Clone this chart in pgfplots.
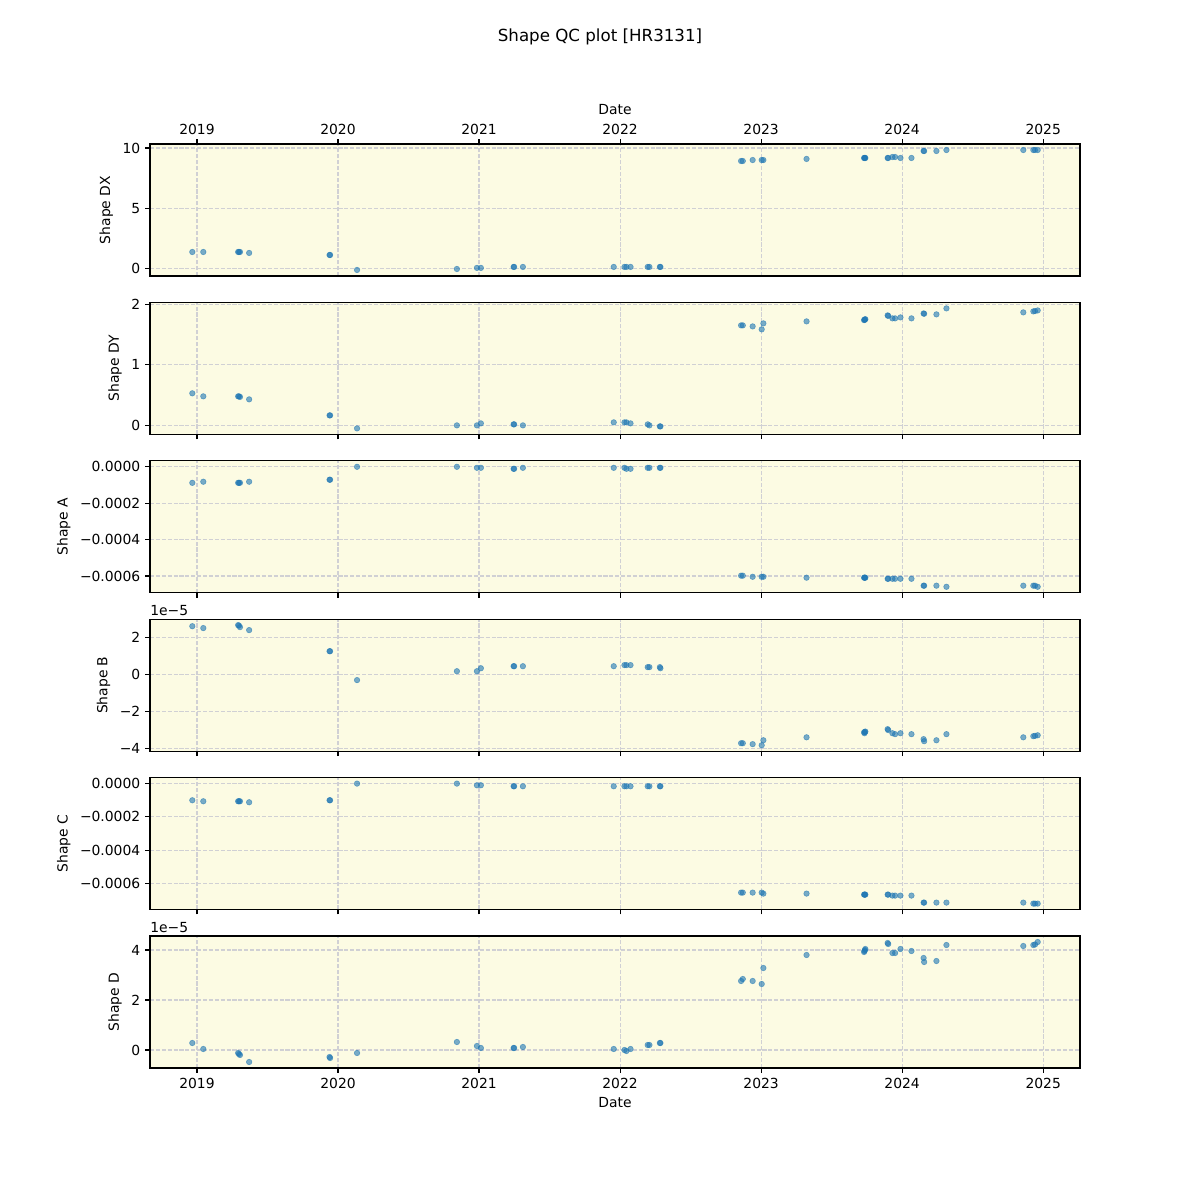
\documentclass[border=0pt]{standalone}
\usepackage{pgfplots}
\usepackage{pgfplotstable}
\usepackage{fontspec}
\setmainfont{DejaVu Sans}
\pgfplotsset{compat=1.18}

\definecolor{mplblue}{HTML}{1F77B4}
\definecolor{bgyellow}{RGB}{252,251,227}
\definecolor{gridgray}{RGB}{208,208,212}

% date, Shape DX, DY, A, B, C, D
\pgfplotstableread{
date      dx     dy     a         b         c         d
2018.967  1.38   0.53   -8.8e-5   2.59e-5   -1.00e-4  0.28e-5
2019.045  1.38   0.48   -8.2e-5   2.49e-5   -1.06e-4  0.04e-5
2019.292  1.38   0.48   -8.8e-5   2.65e-5   -1.06e-4  -0.12e-5
2019.298  1.38   0.48   -8.8e-5   2.62e-5   -1.06e-4  -0.16e-5
2019.305  1.38   0.47   -8.8e-5   2.54e-5   -1.06e-4  -0.20e-5
2019.370  1.30   0.43   -8.2e-5   2.38e-5   -1.12e-4  -0.48e-5
2019.940  1.13   0.165  -7.1e-5   1.24e-5   -1.00e-4  -0.28e-5
2019.944  1.13   0.165  -7.1e-5   1.24e-5   -1.00e-4  -0.32e-5
2020.135  -0.11  -0.05  0.0       -0.32e-5  0.0       -0.12e-5
2020.843  -0.03  0.0    0.0       0.16e-5   0.0       0.32e-5
2020.985  0.06   0.0    -0.55e-5  0.16e-5   -1.0e-5   0.16e-5
2021.013  0.06   0.033  -0.55e-5  0.32e-5   -1.0e-5   0.08e-5
2021.245  0.14   0.017  -1.1e-5   0.43e-5   -1.6e-5   0.08e-5
2021.249  0.14   0.017  -1.1e-5   0.43e-5   -1.6e-5   0.08e-5
2021.311  0.14   0.0    -0.55e-5  0.43e-5   -1.6e-5   0.12e-5
2021.955  0.14   0.05   -0.55e-5  0.43e-5   -1.6e-5   0.04e-5
2022.031  0.14   0.05   -0.55e-5  0.49e-5   -1.6e-5   0.0
2022.045  0.14   0.05   -1.1e-5   0.49e-5   -1.6e-5   -0.04e-5
2022.074  0.14   0.033  -1.1e-5   0.49e-5   -1.6e-5   0.04e-5
2022.196  0.14   0.017  -0.55e-5  0.38e-5   -1.6e-5   0.20e-5
2022.208  0.14   0.0    -0.55e-5  0.38e-5   -1.6e-5   0.20e-5
2022.282  0.14   -0.017 -0.55e-5  0.38e-5   -1.6e-5   0.28e-5
2022.286  0.14   -0.017 -0.55e-5  0.32e-5   -1.6e-5   0.28e-5
2022.858  8.92   1.653  -5.98e-4  -3.73e-5  -6.54e-4  2.76e-5
2022.870  8.92   1.653  -5.98e-4  -3.73e-5  -6.54e-4  2.84e-5
2022.940  9.00   1.636  -6.04e-4  -3.78e-5  -6.54e-4  2.76e-5
2023.004  9.00   1.587  -6.04e-4  -3.84e-5  -6.54e-4  2.64e-5
2023.016  9.00   1.686  -6.04e-4  -3.57e-5  -6.60e-4  3.28e-5
2023.322  9.09   1.719  -6.09e-4  -3.41e-5  -6.60e-4  3.80e-5
2023.730  9.17   1.74   -6.09e-4  -3.14e-5  -6.66e-4  3.92e-5
2023.733  9.17   1.745  -6.09e-4  -3.19e-5  -6.66e-4  3.96e-5
2023.736  9.17   1.75   -6.09e-4  -3.12e-5  -6.66e-4  4.00e-5
2023.739  9.17   1.755  -6.09e-4  -3.10e-5  -6.66e-4  4.04e-5
2023.897  9.17   1.818  -6.15e-4  -2.97e-5  -6.66e-4  4.28e-5
2023.901  9.17   1.81   -6.15e-4  -3.02e-5  -6.66e-4  4.24e-5
2023.931  9.25   1.769  -6.15e-4  -3.19e-5  -6.72e-4  3.88e-5
2023.950  9.25   1.769  -6.15e-4  -3.24e-5  -6.72e-4  3.88e-5
2023.988  9.17   1.785  -6.15e-4  -3.19e-5  -6.72e-4  4.04e-5
2024.066  9.17   1.769  -6.15e-4  -3.24e-5  -6.72e-4  3.96e-5
2024.152  9.75   1.85   -6.53e-4  -3.51e-5  -7.14e-4  3.68e-5
2024.156  9.75   1.845  -6.53e-4  -3.62e-5  -7.14e-4  3.52e-5
2024.243  9.75   1.835  -6.53e-4  -3.57e-5  -7.14e-4  3.56e-5
2024.314  9.83   1.934  -6.59e-4  -3.24e-5  -7.14e-4  4.20e-5
2024.859  9.83   1.868  -6.53e-4  -3.41e-5  -7.14e-4  4.16e-5
2024.930  9.83   1.884  -6.53e-4  -3.35e-5  -7.20e-4  4.20e-5
2024.942  9.83   1.89   -6.53e-4  -3.33e-5  -7.20e-4  4.22e-5
2024.961  9.83   1.90   -6.59e-4  -3.30e-5  -7.20e-4  4.32e-5
}\qcdata

\pgfplotsset{
  qc/.style={
    scale only axis, width=669.6pt, height=95.04pt,
    anchor=south west,
    xmin=2018.667, xmax=2025.261,
    axis background/.style={fill=bgyellow},
    axis line style={line width=0.8pt},
    grid=major,
    major grid style={gridgray, line width=0.8pt, dash pattern=on 2.96pt off 1.28pt},
    tick align=outside, major tick length=3.5pt,
    every tick/.style={black, line width=0.8pt},
    ytick pos=left,
    xtick={2019,2020,2021,2022,2023,2024,2025},
    xticklabels={},
    xtick pos=lower,
    scaled y ticks=false,
    tick label style={font=\fontsize{10}{12}\selectfont},
    label style={font=\fontsize{10}{12}\selectfont},
    clip=false,
  },
  datelabels/.style={xticklabels={2019,2020,2021,2022,2023,2024,2025}},
  pts/.style={only marks, mark=*, mark size=2pt,
    mark options={fill=mplblue, draw=mplblue, line width=0.4pt, fill opacity=0.6, draw opacity=0.6}},
}

\begin{document}
\begin{tikzpicture}
\path[use as bounding box] (0,0) rectangle (864pt,864pt);
\node[anchor=north, font=\fontsize{12}{14}\selectfont] at (432pt,846.72pt) {Shape QC plot [HR3131]};

% Shape DX
\begin{axis}[qc, at={(108pt,665.28pt)},
  datelabels, xtick pos=upper, xticklabel pos=upper,
  xlabel={Date}, xlabel style={at={(axis description cs:0.5,1)}, anchor=center, yshift=24.5pt},
  ymin=-0.61, ymax=10.33, ytick={0,5,10}, yticklabels={0,5,10},
  ylabel={Shape DX}]
\addplot[pts] table[x=date, y=dx] {\qcdata};
\end{axis}

% Shape DY
\begin{axis}[qc, at={(108pt,551.232pt)},
  ymin=-0.149, ymax=2.033, ytick={0,1,2}, yticklabels={0,1,2},
  ylabel={Shape DY}]
\addplot[pts] table[x=date, y=dy] {\qcdata};
\end{axis}

% Shape A
\begin{axis}[qc, at={(108pt,437.184pt)},
  ymin=-0.000692, ymax=0.000033,
  ytick={-0.0006,-0.0004,-0.0002,0}, yticklabels={−0.0006,−0.0004,−0.0002,0.0000},
  ylabel={Shape A}]
\addplot[pts] table[x=date, y=a] {\qcdata};
\end{axis}

% Shape B
\begin{axis}[qc, at={(108pt,323.136pt)},
  ymin=-4.16e-5, ymax=2.97e-5,
  ytick={-4e-5,-2e-5,0,2e-5}, yticklabels={−4,−2,0,2},
  ylabel={Shape B}]
\addplot[pts] table[x=date, y=b] {\qcdata};
\node[anchor=south west, inner sep=0pt, yshift=2pt, font=\fontsize{10}{12}\selectfont] at (rel axis cs:0,1) {1e−5};
\end{axis}

% Shape C
\begin{axis}[qc, at={(108pt,209.088pt)},
  ymin=-0.000756, ymax=0.000036,
  ytick={-0.0006,-0.0004,-0.0002,0}, yticklabels={−0.0006,−0.0004,−0.0002,0.0000},
  ylabel={Shape C}]
\addplot[pts] table[x=date, y=c] {\qcdata};
\end{axis}

% Shape D
\begin{axis}[qc, at={(108pt,95.04pt)},
  datelabels,
  xlabel={Date},
  ymin=-0.72e-5, ymax=4.56e-5,
  ytick={0,2e-5,4e-5}, yticklabels={0,2,4},
  ylabel={Shape D}]
\addplot[pts] table[x=date, y=d] {\qcdata};
\node[anchor=south west, inner sep=0pt, yshift=2pt, font=\fontsize{10}{12}\selectfont] at (rel axis cs:0,1) {1e−5};
\end{axis}
\end{tikzpicture}
\end{document}
